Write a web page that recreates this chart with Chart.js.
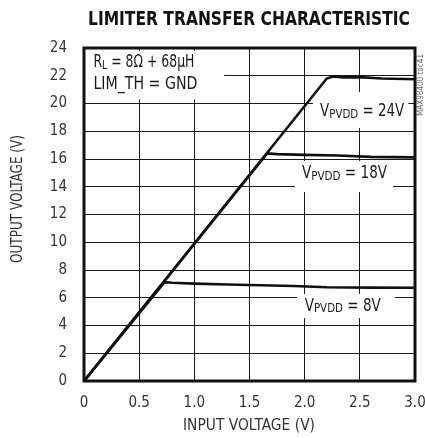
<!DOCTYPE html>
<html>
<head>
<meta charset="utf-8">
<script src="https://cdn.jsdelivr.net/npm/chart.js@4.4.0/dist/chart.umd.min.js"></script>
<style>
html, body { margin: 0; padding: 0; background: #fff; }
canvas { display: block; }
</style>
</head>
<body>
<canvas id="chart" width="425" height="438"></canvas>
<script>
// curves (input V, output V)
const vin8 = [0, 0.73, 0.8, 1.0, 1.3, 1.6, 1.9, 2.2, 2.6, 3.0]
const vout8 = [0, 7.12, 7.08, 7.02, 6.96, 6.9, 6.85, 6.76, 6.73, 6.72]
const vin18 = [0, 1.66, 1.75, 2.0, 2.3, 2.6, 3.0]
const vout18 = [0, 16.4, 16.35, 16.3, 16.25, 16.15, 16.12]
const vin24 = [0, 2.2, 2.26, 2.35, 2.5, 2.7, 3.0]
const vout24 = [0, 21.8, 21.95, 21.88, 21.9, 21.8, 21.75]

const xTicks = [0, 0.5, 1.0, 1.5, 2.0, 2.5, 3.0]
const yTicks = [0, 2, 4, 6, 8, 10, 12, 14, 16, 18, 20, 22, 24]

const narrow = "'Liberation Sans Narrow', 'DejaVu Sans Condensed', 'Arial Narrow', sans-serif"
const ink = '#1a1a1a'

// text boxes on the plot, in data units (x0, x1, y0, y1); w = printed width in px
const notes = [
    {main: 'R', sub: 'L', rest: ' = 8\u03A9 + 68\u00B5H', x: 0.085, y: 23.06, w: 101, box: [0, 1.04, 22.4, 23.8]},
    {main: 'LIM_TH = GND', sub: '', rest: '', x: 0.085, y: 21.48, w: 104, box: [0, 1.27, 20.3, 22.45]},
    {main: 'V', sub: 'PVDD', rest: ' = 24V', x: 2.14, y: 19.53, w: 84, box: [2.075, 2.94, 18.23, 20.83]},
    {main: 'V', sub: 'PVDD', rest: ' = 18V', x: 1.976, y: 15.06, w: 85, box: [1.912, 2.8, 13.62, 15.86]},
    {main: 'V', sub: 'PVDD', rest: ' = 8V', x: 2.0, y: 5.48, w: 76, box: [1.93, 2.82, 4.54, 6.27]},
]

const toPoints = (xs, ys) => xs.map((x, i) => ({x: x, y: ys[i]}))

const curve = (label, xs, ys) => ({
    label: label,
    data: toPoints(xs, ys),
    borderColor: '#111',
    borderWidth: 2.6,
    pointRadius: 0,
    fill: false,
    tension: 0,
})

// draw text centred at (x, y), squeezed to width w
const fitText = (ctx, text, x, y, w, angle) => {
    const natural = ctx.measureText(text).width
    ctx.save()
    ctx.translate(x, y)
    if (angle) ctx.rotate(angle)
    ctx.scale(w / natural, 1)
    ctx.fillText(text, 0, 0)
    ctx.restore()
}

const decor = {
    id: 'decor',
    beforeDatasetsDraw(chart) {
        const ctx = chart.ctx
        const sx = chart.scales.x
        const sy = chart.scales.y
        ctx.save()
        notes.forEach((n) => {
            const x0 = sx.getPixelForValue(n.box[0])
            const x1 = sx.getPixelForValue(n.box[1])
            const y0 = sy.getPixelForValue(n.box[3])
            const y1 = sy.getPixelForValue(n.box[2])
            ctx.fillStyle = '#fff'
            ctx.fillRect(x0, y0, x1 - x0, y1 - y0)
        })
        ctx.fillStyle = ink
        ctx.textBaseline = 'alphabetic'
        ctx.textAlign = 'left'
        const big = '17px ' + narrow
        const small = '13px ' + narrow
        notes.forEach((n) => {
            ctx.font = big
            let total = ctx.measureText(n.main + n.rest).width
            ctx.font = small
            total += ctx.measureText(n.sub).width
            const k = n.w / total
            ctx.save()
            ctx.translate(sx.getPixelForValue(n.x), sy.getPixelForValue(n.y) + 6)
            ctx.scale(k, 1)
            let x = 0
            ctx.font = big
            ctx.fillText(n.main, x, 0)
            x += ctx.measureText(n.main).width
            if (n.sub) {
                ctx.font = small
                ctx.fillText(n.sub, x, 1.5)
                x += ctx.measureText(n.sub).width
            }
            if (n.rest) {
                ctx.font = big
                ctx.fillText(n.rest, x, 0)
            }
            ctx.restore()
        })
        ctx.restore()
    },
    afterDatasetsDraw(chart) {
        const ctx = chart.ctx
        const a = chart.chartArea
        ctx.save()
        ctx.strokeStyle = '#111'
        ctx.lineWidth = 3
        ctx.strokeRect(a.left, a.top, a.right - a.left, a.bottom - a.top)
        ctx.restore()
    },
    afterDraw(chart) {
        const ctx = chart.ctx
        ctx.save()
        ctx.fillStyle = '#111'
        ctx.textAlign = 'center'
        ctx.textBaseline = 'middle'

        ctx.font = 'bold 20px ' + narrow
        fitText(ctx, 'LIMITER TRANSFER CHARACTERISTIC', 249, 20, 322)

        ctx.fillStyle = '#333'
        ctx.font = '15px ' + narrow
        fitText(ctx, 'INPUT VOLTAGE (V)', 249, 426, 132)
        fitText(ctx, 'OUTPUT VOLTAGE (V)', 18, 199, 128, -Math.PI / 2)

        ctx.fillStyle = '#666'
        ctx.font = '8px ' + narrow
        fitText(ctx, 'MAX98400 toc41', 421, 85, 62, -Math.PI / 2)

        ctx.restore()
    }
}

const chart = new Chart(document.getElementById('chart').getContext('2d'), {
    type: 'line',
    data: {
        datasets: [
            curve('VPVDD = 8V', vin8, vout8),
            curve('VPVDD = 18V', vin18, vout18),
            curve('VPVDD = 24V', vin24, vout24),
        ]
    },
    options: {
        responsive: false,
        animation: false,
        layout: {padding: {top: 48, right: 10, left: 0, bottom: 0}},
        plugins: {
            legend: {display: false},
            tooltip: {enabled: false},
        },
        scales: {
            x: {
                type: 'linear',
                min: xTicks[0],
                max: xTicks[xTicks.length - 1],
                afterBuildTicks: (s) => { s.ticks = xTicks.map((v) => ({value: v})) },
                ticks: {
                    padding: 13,
                    color: '#333',
                    font: {family: narrow, size: 15},
                    callback: (v) => v === 0 ? '0' : v.toFixed(1),
                },
                grid: {color: ink, lineWidth: 1, drawTicks: false},
                border: {display: false},
                afterFit: (s) => { s.height = 57; s.paddingLeft = 0; s.paddingRight = 0 },
            },
            y: {
                type: 'linear',
                min: yTicks[0],
                max: yTicks[yTicks.length - 1],
                afterBuildTicks: (s) => { s.ticks = yTicks.map((v) => ({value: v})) },
                ticks: {
                    padding: 17,
                    color: '#333',
                    font: {family: narrow, size: 15},
                },
                grid: {color: ink, lineWidth: 1, drawTicks: false},
                border: {display: false},
                afterFit: (s) => { s.width = 84; s.paddingTop = 0; s.paddingBottom = 0 },
            },
        },
    },
    plugins: [decor],
});
</script>
</body>
</html>
